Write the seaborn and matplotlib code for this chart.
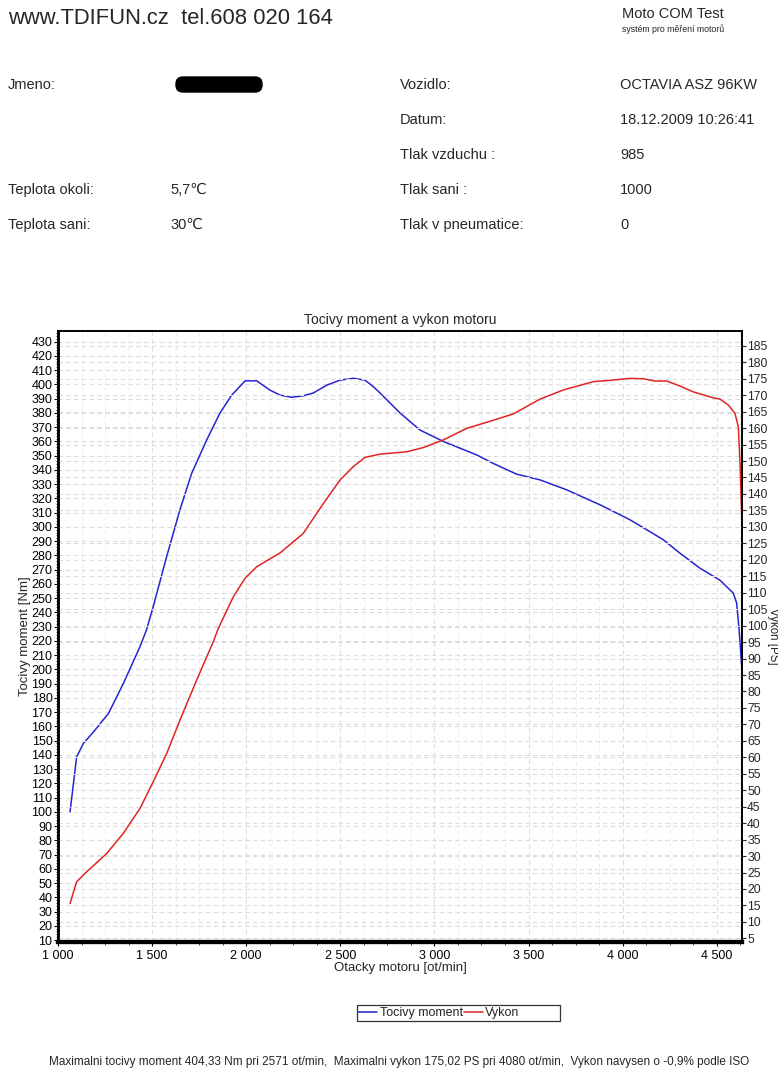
import matplotlib
matplotlib.use("Agg")
import matplotlib.pyplot as plt
import seaborn as sns
from matplotlib.patches import FancyBboxPatch, Rectangle
from matplotlib.ticker import MultipleLocator, FixedLocator, FixedFormatter

# ---------------- data ----------------
torque_rpm = [1064, 1099, 1135, 1188, 1268, 1347, 1436, 1471, 1506, 1577, 1648, 1710,
              1790, 1861, 1923, 1994, 2056, 2126, 2180, 2242, 2303, 2357, 2428, 2498,
              2571, 2631, 2675, 2711, 2817, 2923, 3047, 3225, 3313, 3437, 3561, 3703,
              3880, 4039, 4128, 4216, 4305, 4411, 4518, 4588, 4606, 4619, 4636]
torque_nm = [100, 138.5, 148, 156, 169, 190, 216, 228, 244, 279, 312, 337.5,
             361, 380, 392.5, 402.5, 402.5, 396, 392.5, 391, 392, 394, 399.5, 403,
             404.3, 403, 398.5, 394, 380, 368, 360, 350.5, 344.5, 337, 333, 326,
             315.5, 305, 298, 291, 281.5, 271, 262.5, 253.5, 246.5, 228, 196]

power_rpm = [1064, 1099, 1152, 1259, 1347, 1436, 1506, 1578, 1648, 1737, 1825, 1852,
             1932, 1994, 2056, 2180, 2303, 2410, 2498, 2569, 2631, 2711, 2853, 2941,
             3047, 3171, 3330, 3419, 3561, 3685, 3844, 3951, 4039, 4110, 4172, 4234,
             4305, 4376, 4482, 4518, 4562, 4597, 4615, 4624, 4636]
power_ps = [15.6, 22.2, 25.2, 30.8, 36.9, 44.5, 52.6, 61.2, 71.3, 83.5, 95.1, 99.2,
            108.8, 114.4, 117.9, 122.1, 128, 137.1, 144.2, 148.3, 151.1, 152.1, 152.8, 154.1,
            156.4, 159.9, 162.7, 164.3, 168.8, 171.6, 174.1, 174.6, 175.1, 175.0, 174.3, 174.3,
            172.8, 171, 169.2, 168.8, 167, 164.5, 160.4, 149.3, 127]

x_ticks = [1000, 1500, 2000, 2500, 3000, 3500, 4000, 4500]
x_tick_labels = ["1 000", "1 500", "2 000", "2 500", "3 000", "3 500", "4 000", "4 500"]
left_ticks = list(range(10, 431, 10))
right_ticks = list(range(5, 186, 5))

series_names = ["Tocivy moment", "Vykon"]

info_left_labels = ["Jmeno:", "Teplota okoli:", "Teplota sani:"]
info_left_values = ["", "5,7\u2103", "30\u2103"]
info_right_labels = ["Vozidlo:", "Datum:", "Tlak vzduchu :", "Tlak sani :", "Tlak v pneumatice:"]
info_right_values = ["OCTAVIA ASZ 96KW", "18.12.2009 10:26:41", "985", "1000", "0"]

footer = ("Maximalni tocivy moment 404,33 Nm pri 2571 ot/min,  Maximalni vykon 175,02 PS "
          "pri 4080 ot/min,  Vykon navysen o -0,9% podle ISO")

# ---------------- style ----------------
sns.set_style("ticks")
plt.rcParams['font.family'] = ['Liberation Sans', 'DejaVu Sans']

W, H = 778, 1071
fig = plt.figure(figsize=(W / 100, H / 100), dpi=100)
fig.patch.set_facecolor("white")

def fx(px):
    return px / W

def fy(py):
    return 1 - py / H

# header
fig.text(fx(8), fy(18), "www.TDIFUN.cz  tel.608 020 164", fontsize=15.8, va='center', ha='left')
fig.text(fx(622), fy(14), "Moto COM Test", fontsize=10.5, va='center', ha='left')
fig.text(fx(622), fy(29), "systém pro měření motorů", fontsize=6.3, va='center', ha='left')

left_rows_y = [85, 190, 225]
for lab, val, y in zip(info_left_labels, info_left_values, left_rows_y):
    fig.text(fx(8), fy(y), lab, fontsize=10.5, va='center')
    if val:
        fig.text(fx(170), fy(y), val, fontsize=10.5, va='center')
right_rows_y = [85, 120, 155, 190, 225]
for lab, val, y in zip(info_right_labels, info_right_values, right_rows_y):
    fig.text(fx(400), fy(y), lab, fontsize=10.5, va='center')
    fig.text(fx(620), fy(y), val, fontsize=10.5, va='center')

# redaction blob
blob = FancyBboxPatch((1.76, (H - 92) / 100), 0.86, 0.15,
                      boxstyle="round,pad=0,rounding_size=0.07",
                      transform=fig.dpi_scale_trans, facecolor="black", edgecolor="black")
fig.patches.append(blob)

# ---------------- chart ----------------
ax = fig.add_axes([fx(58), fy(942), (742.3 - 58) / W, (942 - 331) / H])
ax2 = ax.twinx()

blue = "#2424d2"
red = "#e02424"
sns.lineplot(x=torque_rpm, y=torque_nm, ax=ax, color=blue, linewidth=1.1,
             sort=False, estimator=None, label=series_names[0], legend=False)
sns.lineplot(x=power_rpm, y=power_ps, ax=ax2, color=red, linewidth=1.1,
             sort=False, estimator=None, label=series_names[1], legend=False)

ax.set_xlim(1000, 4636)
ax.set_ylim(8.6, 437.5)
ax2.set_ylim(3.9, 189.5)

ax.xaxis.set_major_locator(FixedLocator(x_ticks))
ax.xaxis.set_major_formatter(FixedFormatter(x_tick_labels))
ax.xaxis.set_minor_locator(MultipleLocator(125))
ax.yaxis.set_major_locator(FixedLocator(left_ticks))
ax.yaxis.set_minor_locator(MultipleLocator(2))
ax2.yaxis.set_major_locator(FixedLocator(right_ticks))

grid_kw = dict(color="#dedede", linestyle=(0, (4, 3)), linewidth=0.8)
ax.grid(True, which='major', axis='both', **grid_kw)
ax.grid(True, which='minor', axis='x', color="#ececec", linestyle=(0, (4, 3)), linewidth=0.7)
ax2.grid(True, which='major', axis='y', **grid_kw)
ax.set_axisbelow(True)

for a in (ax, ax2):
    for s in a.spines.values():
        s.set_color("black")
        s.set_linewidth(1.2)
    a.spines['bottom'].set_linewidth(3)
    a.spines['left'].set_linewidth(1.8)

ax.tick_params(axis='both', which='major', labelsize=9, length=3, width=0.8, pad=1, colors="black")
ax.tick_params(axis='y', which='minor', length=1.5, width=0.6)
ax.tick_params(axis='x', which='minor', length=2, width=0.6)
ax.tick_params(axis='x', which='major', pad=3)
ax2.tick_params(axis='y', which='major', labelsize=8.8, length=3, width=0.8, pad=0.5)

ax.set_title("Tocivy moment a vykon motoru", fontsize=10, pad=5)
ax.set_xlabel("Otacky motoru [ot/min]", fontsize=9.5, labelpad=0)
ax.set_ylabel("Tocivy moment [Nm]", fontsize=9.5)
ax.yaxis.set_label_coords((31 - 58) / 684.3, 0.5)
ax2.set_ylabel("Vykon [PS]", fontsize=8.3, rotation=270, va='center')
ax2.yaxis.set_label_coords((773.5 - 58) / 684.3, 0.5)

# legend
handles = [ax.get_lines()[0], ax2.get_lines()[0]]
leg = fig.legend(handles, series_names, loc='center left',
                 bbox_to_anchor=(fx(357), fy(1013)), ncol=2, frameon=False,
                 fontsize=9, handlelength=1.5, handletextpad=0.2, columnspacing=0.1,
                 borderpad=0.1, borderaxespad=0)
box = Rectangle((fx(357), fy(1021)), fx(560) - fx(357), fy(1005) - fy(1021),
                transform=fig.transFigure, fill=False, edgecolor="#333333", linewidth=0.9)
fig.patches.append(box)

fig.text(fx(399), fy(1062), footer, fontsize=8.5, ha='center', va='center')

fig.savefig("out.png", dpi=100)
